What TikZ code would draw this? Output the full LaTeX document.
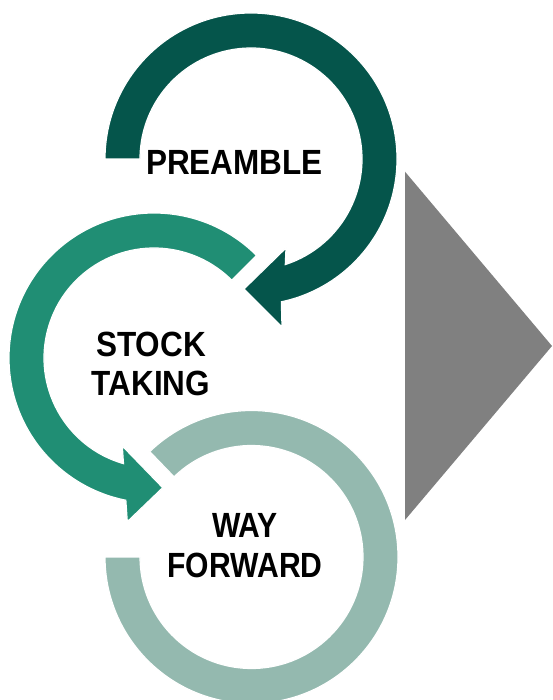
\documentclass[tikz,border=0pt]{standalone}
\usepackage{fontspec}
\usetikzlibrary{calc}
\newfontfamily\labfont[FakeStretch=0.86]{Liberation Sans}
\newfontfamily\labfontwide[FakeStretch=0.90]{Liberation Sans}
\definecolor{darkteal}{HTML}{05554B}
\definecolor{midteal}{HTML}{208E74}
\definecolor{lightteal}{HTML}{94B9AF}
\definecolor{arrowgray}{HTML}{808080}
\tikzset{
  band/.style={draw=white, line width=1.2pt, line join=miter},
  lab/.style={font=\labfont\bfseries\fontsize{35}{40}\selectfont, align=center, inner sep=0pt, text=black},
  labwide/.style={lab, font=\labfontwide\bfseries\fontsize{35}{39}\selectfont}
}
\begin{document}
\begin{tikzpicture}[x=1pt,y=1pt]
\useasboundingbox (0,0) rectangle (552,-700);
\clip (0,0) rectangle (552,-700);
\coordinate (C1) at (251,-159);
\coordinate (C2) at (154,-358);
\coordinate (C3) at (251.5,-557);
% bottom ring (light)
\fill[lightteal, band] ($(C3)+(180:146.5)$) arc[start angle=180, end angle=494, radius=146.5]
  -- ($(C3)+(494:111.5)$) arc[start angle=494, end angle=180, radius=111.5] -- cycle;
% middle arrow
\fill[midteal, band] ($(C2)+(45:145)$) arc[start angle=45, end angle=258.8, radius=145]
  -- (127.3,-521.7) -- (162.7,-487.7) -- (122.3,-446)
  -- ($(C2)+(253.9:110)$) arc[start angle=253.9, end angle=45, radius=110] -- cycle;
% top arrow
\fill[darkteal, band] ($(C1)+(180:146)$) arc[start angle=180, end angle=-78, radius=146]
  -- (282,-327) -- (244,-289) -- (286,-248)
  -- ($(C1)+(-72:111)$) arc[start angle=-72, end angle=180, radius=111] -- cycle;
% gray triangle
\fill[arrowgray] (405,-171.7) -- (552,-346) -- (405,-520) -- cycle;
% labels
\node[labwide] (pre) at (234.5,-162.5) {PREAMBLE};
\node[labwide] (stock) at (151,-364) {STOCK\\TAKING};
\node[lab] (way) at (245,-545.5) {WAY\\FORWARD};
\end{tikzpicture}
\end{document}
